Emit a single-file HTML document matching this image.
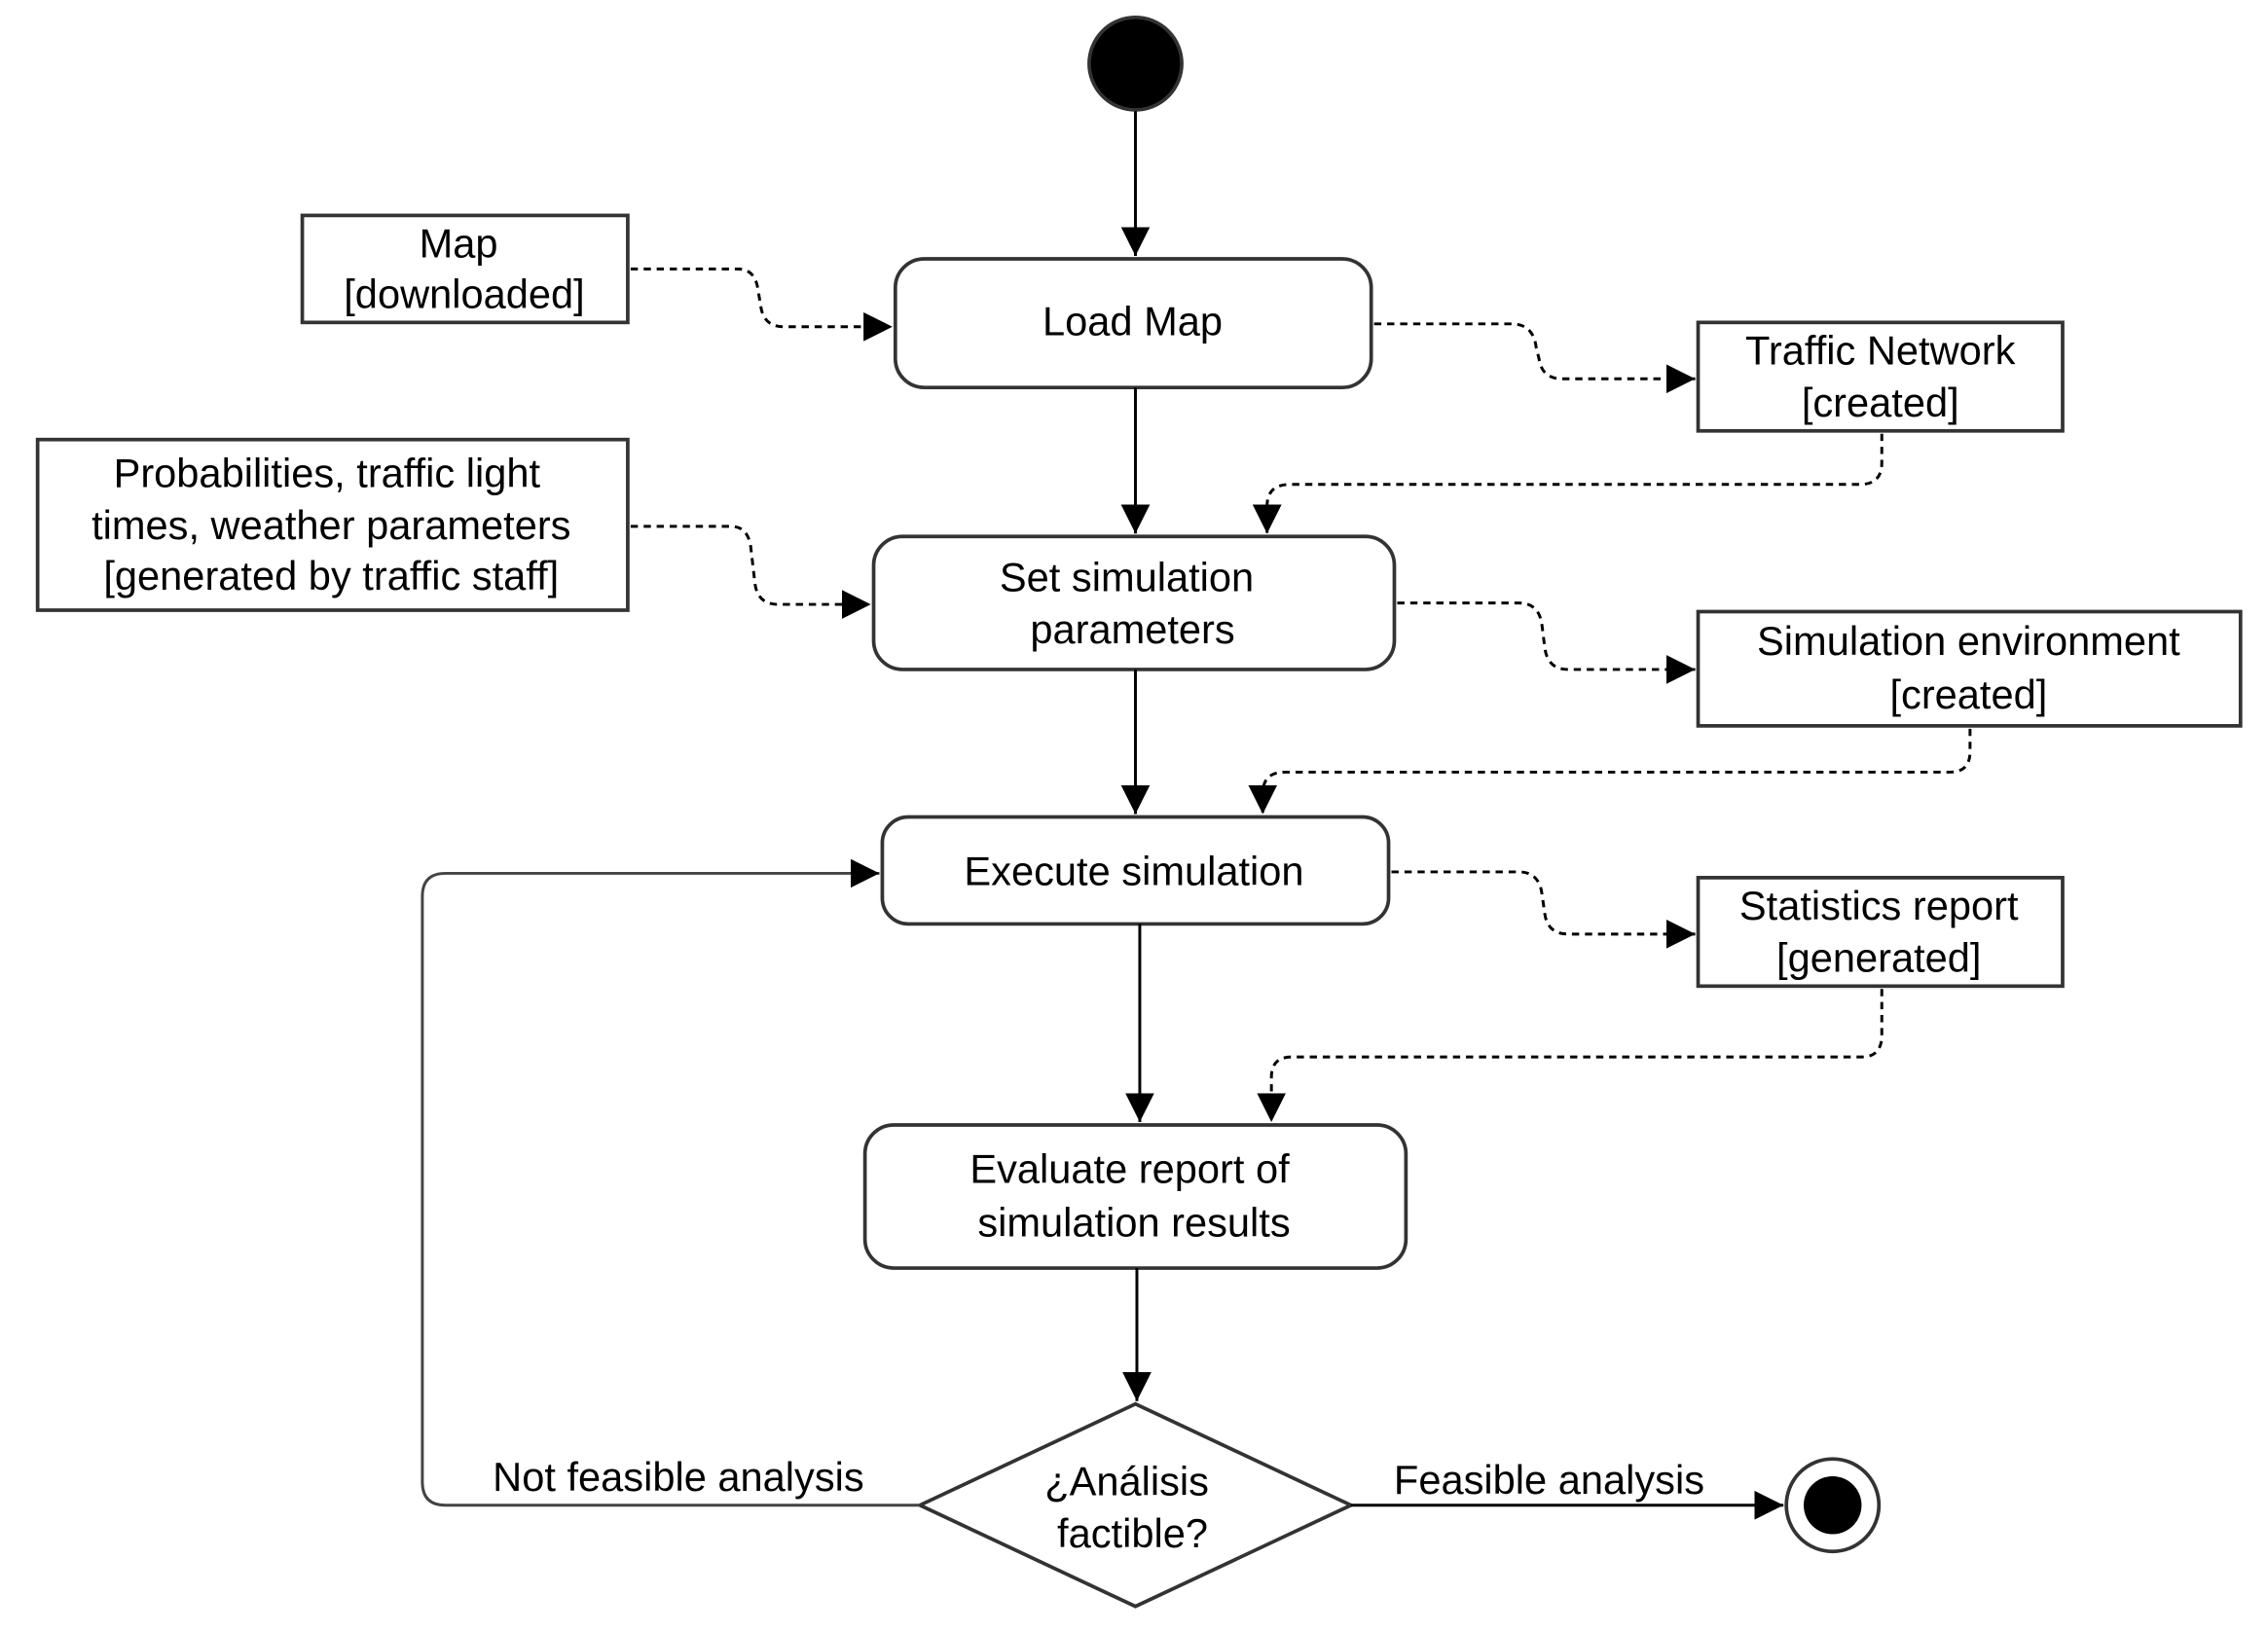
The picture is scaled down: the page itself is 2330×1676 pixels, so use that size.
<!DOCTYPE html>
<html><head><meta charset="utf-8"><style>html,body{margin:0;padding:0;background:#fff}svg{display:block}
text{font-family:"Liberation Sans",Arial,sans-serif;font-size:28px}</style></head>
<body>
<svg width="2330" height="1676" viewBox="0 0 1568 1128" preserveAspectRatio="none" xmlns="http://www.w3.org/2000/svg" text-anchor="middle">
<defs>
<marker id="a" viewBox="0 0 10 10" refX="10" refY="5" markerWidth="20" markerHeight="20" markerUnits="userSpaceOnUse" orient="auto"><path d="M0,0 L10,5 L0,10 z" fill="#000"/></marker>
</defs>
<g fill="none" stroke="#333" stroke-width="2.5">
<circle cx="785" cy="44" r="32" fill="#000" stroke="#333"/>
<rect x="619" y="179" width="329" height="89" rx="20" fill="#fff"/>
<rect x="604" y="371" width="360" height="92" rx="20" fill="#fff"/>
<rect x="610" y="565" width="350" height="74" rx="18" fill="#fff"/>
<rect x="598" y="778" width="374" height="99" rx="20" fill="#fff"/>
<rect x="209" y="149" width="225" height="74" fill="#fff"/>
<rect x="26" y="304" width="408" height="118" fill="#fff"/>
<rect x="1174" y="223" width="252" height="75" fill="#fff"/>
<rect x="1174" y="423" width="375" height="79" fill="#fff"/>
<rect x="1174" y="607" width="252" height="75" fill="#fff"/>
<path d="M785,971 L934,1041 L785,1111 L636,1041 Z" fill="#fff"/>
<circle cx="1267" cy="1041" r="32" fill="#fff"/>
<circle cx="1267" cy="1041" r="20" fill="#000" stroke="none"/>
</g>
<g fill="none" stroke="#000" stroke-width="2">
<path d="M785,77 V177" marker-end="url(#a)"/>
<path d="M785,268 V369" marker-end="url(#a)"/>
<path d="M785,463 V563" marker-end="url(#a)"/>
<path d="M788,639 V776" marker-end="url(#a)"/>
<path d="M786,877 V969" marker-end="url(#a)"/>
<path d="M934,1041 H1233" marker-end="url(#a)"/>
<path d="M636,1041 H308 Q292,1041 292,1025 V620 Q292,604 308,604 H608" stroke="#444" marker-end="url(#a)"/>
</g>
<g fill="none" stroke="#000" stroke-width="2" stroke-dasharray="5,4">
<path d="M436,186 H510 Q522,186 524,200 L526,212 Q528,226 542,226 H617" marker-end="url(#a)"/>
<path d="M950,224 H1045 Q1060,224 1062,240 L1064,248 Q1066,262 1080,262 H1172" marker-end="url(#a)"/>
<path d="M1301,300 V320 Q1301,335 1286,335 H892 Q876,335 876,350 V369" marker-end="url(#a)"/>
<path d="M436,364 H505 Q517,364 519,378 L522,404 Q524,418 538,418 H602" marker-end="url(#a)"/>
<path d="M966,417 H1050 Q1064,417 1066,432 L1068,448 Q1070,463 1084,463 H1172" marker-end="url(#a)"/>
<path d="M1362,504 V520 Q1362,534 1348,534 H888 Q873,534 873,549 V563" marker-end="url(#a)"/>
<path d="M962,603 H1050 Q1064,603 1066,618 L1068,632 Q1070,646 1084,646 H1172" marker-end="url(#a)"/>
<path d="M1301,684 V716 Q1301,731 1287,731 H893 Q879,731 879,745 V776" marker-end="url(#a)"/>
</g>
<g fill="#000">
<text x="783" y="232">Load Map</text>
<text x="779" y="409">Set simulation</text>
<text x="783" y="445">parameters</text>
<text x="784" y="612">Execute simulation</text>
<text x="781" y="818">Evaluate report of</text>
<text x="784" y="855">simulation results</text>
<text x="317" y="178">Map</text>
<text x="321" y="213">[downloaded]</text>
<text x="226" y="337">Probabilities, traffic light</text>
<text x="229" y="373">times, weather parameters</text>
<text x="229" y="408">[generated by traffic staff]</text>
<text x="1300" y="252">Traffic Network</text>
<text x="1300" y="288">[created]</text>
<text x="1361" y="453">Simulation environment</text>
<text x="1361" y="490">[created]</text>
<text x="1299" y="636">Statistics report</text>
<text x="1299" y="672">[generated]</text>
<text x="779" y="1034">¿Análisis</text>
<text x="783" y="1070">factible?</text>
<text x="469" y="1031">Not feasible analysis</text>
<text x="1071" y="1033">Feasible analysis</text>
</g>
</svg>
</body></html>
